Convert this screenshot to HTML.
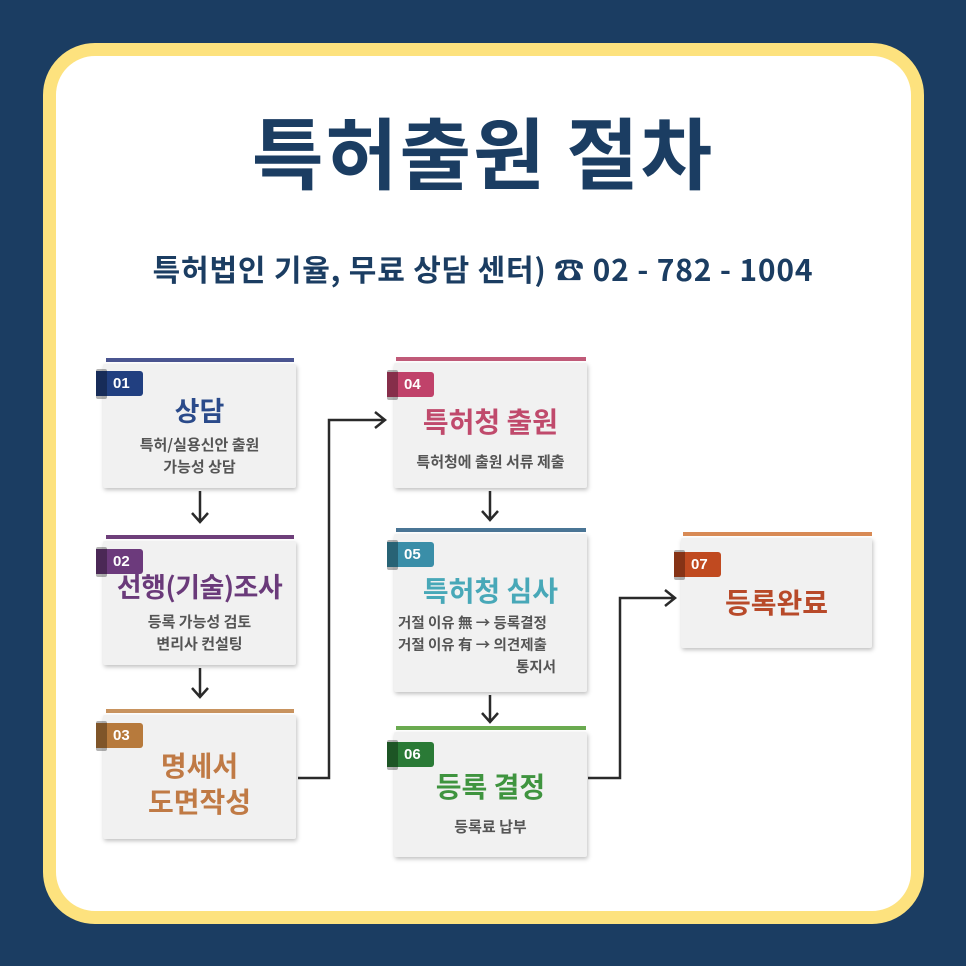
<!DOCTYPE html>
<html><head><meta charset="utf-8">
<style>
*{margin:0;padding:0;box-sizing:border-box}
body{width:966px;height:966px;background:#1b3d62;position:relative;overflow:hidden;font-family:"Liberation Sans","Noto Sans CJK KR",sans-serif}
.frame{position:absolute;left:43px;top:43px;width:881px;height:881px;background:#fff;border:13px solid #fde27e;border-radius:52px}
.t{position:absolute;left:0;width:966px;text-align:center;color:#1b3d62;font-weight:bold;font-family:"Noto Sans CJK KR",sans-serif;white-space:nowrap}
.bar{position:absolute;height:4px}
.box{position:absolute;background:#f1f1f1;box-shadow:1px 2px 4px rgba(0,0,0,.25);border-radius:2px;text-align:center;font-family:"Noto Sans CJK KR",sans-serif}
.badge{position:absolute;width:47px;height:25px;color:#fff;font-size:15px;font-weight:bold;line-height:25px;padding-left:17px;border-radius:0 3px 3px 0;font-family:"Liberation Sans",sans-serif}
.badge:before{content:"";position:absolute;left:0;top:-2px;width:11px;height:30px;background:rgba(0,0,0,.3);border-radius:2px}
.h{font-weight:bold;position:absolute;left:0;right:0;white-space:nowrap}
.s{color:#555;font-size:15px;line-height:22px;position:absolute;left:0;right:0;font-weight:bold;white-space:nowrap}
</style></head><body>
<div class="frame"></div>
<div class="t" style="top:95px;font-size:78px;line-height:110px;letter-spacing:2px">특허출원 절차</div>
<div class="t" style="top:248px;font-size:30px;line-height:40px;letter-spacing:0.8px">특허법인 기율, 무료 상담 센터) ☎ 02 - 782 - 1004</div>

<!-- col1 -->
<div class="bar" style="left:106px;top:358px;width:188px;background:#4a5590"></div>
<div class="box" style="left:103px;top:364px;width:193px;height:124px">
 <div class="h" style="top:26px;font-size:27px;color:#2a4a8a">상담</div>
 <div class="s" style="top:70px">특허/실용신안 출원<br>가능성 상담</div></div>
<div class="badge" style="left:96px;top:371px;background:#213f80">01</div>

<div class="bar" style="left:106px;top:535px;width:188px;background:#6e3f7a"></div>
<div class="box" style="left:103px;top:541px;width:193px;height:124px">
 <div class="h" style="top:25px;font-size:27px;color:#6a3a7a;letter-spacing:-0.5px">선행(기술)조사</div>
 <div class="s" style="top:70px">등록 가능성 검토<br>변리사 컨설팅</div></div>
<div class="badge" style="left:96px;top:549px;background:#6c3a7c">02</div>

<div class="bar" style="left:106px;top:709px;width:188px;background:#c8935f"></div>
<div class="box" style="left:103px;top:715px;width:193px;height:124px">
 <div class="h" style="top:32px;font-size:28px;line-height:36px;color:#c07a45">명세서<br>도면작성</div></div>
<div class="badge" style="left:96px;top:723px;background:#b77a3c">03</div>

<!-- col2 -->
<div class="bar" style="left:396px;top:357px;width:190px;background:#c05a78"></div>
<div class="box" style="left:394px;top:363px;width:193px;height:125px">
 <div class="h" style="top:38px;font-size:28px;color:#c04a6c">특허청 출원</div>
 <div class="s" style="top:88px">특허청에 출원 서류 제출</div></div>
<div class="badge" style="left:387px;top:372px;background:#c0426a">04</div>

<div class="bar" style="left:396px;top:528px;width:190px;background:#4a7595"></div>
<div class="box" style="left:394px;top:534px;width:193px;height:158px">
 <div class="h" style="top:36px;font-size:28px;color:#48a8b8">특허청 심사</div>
 <div class="s" style="top:78px;text-align:left;padding-left:4px;font-size:14.5px">거절 이유 無 → 등록결정<br>거절 이유 有 → 의견제출<br><span style="padding-left:118px">통지서</span></div></div>
<div class="badge" style="left:387px;top:542px;background:#3a8ea8">05</div>

<div class="bar" style="left:396px;top:726px;width:190px;background:#6aaa50"></div>
<div class="box" style="left:394px;top:732px;width:193px;height:125px">
 <div class="h" style="top:34px;font-size:28px;color:#3f943f">등록 결정</div>
 <div class="s" style="top:84px">등록료 납부</div></div>
<div class="badge" style="left:387px;top:742px;background:#2a7a36">06</div>

<!-- col3 -->
<div class="bar" style="left:683px;top:532px;width:189px;background:#d88a55"></div>
<div class="box" style="left:681px;top:538px;width:191px;height:110px">
 <div class="h" style="top:44px;font-size:28px;color:#b84a2a">등록완료</div></div>
<div class="badge" style="left:674px;top:552px;background:#c04a20">07</div>

<svg width="966" height="966" style="position:absolute;left:0;top:0" fill="none" stroke="#2a2a2a" stroke-width="2.5">
 <path d="M200 491V522M192 513L200 522L208 513"/>
 <path d="M200 668V697M192 688L200 697L208 688"/>
 <path d="M490 491V520M482 511L490 520L498 511"/>
 <path d="M490 695V722M482 713L490 722L498 713"/>
 <path d="M298 778H329V420H385M375 412L385 420L375 428"/>
 <path d="M588 778H620V598H675M665 590L675 598L665 606"/>
</svg>
</body></html>
